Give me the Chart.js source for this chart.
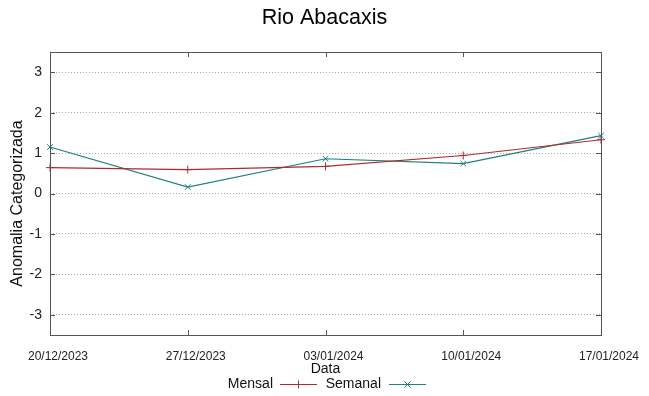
<!DOCTYPE html>
<html>
<head>
<meta charset="utf-8">
<script src="https://cdn.jsdelivr.net/npm/chart.js@4.4.1/dist/chart.umd.min.js"></script>
<style>
  body { margin: 0; background: #fff; }
  canvas { display: block; }
</style>
</head>
<body>
<canvas id="chart" width="649" height="396"></canvas>
<script>
// Data
const dates = ['20/12/2023', '27/12/2023', '03/01/2024', '10/01/2024', '17/01/2024'];
const mensal = [0.64, 0.59, 0.67, 0.94, 1.33];
const semanal = [1.15, 0.16, 0.86, 0.74, 1.43];
const yTicks = [-3, -2, -1, 0, 1, 2, 3];

const RED = '#b02a2a';
const TEAL = '#1f8080';
const FONT = "'Liberation Sans', Arial, sans-serif";

// gnuplot-like frame, inward tick marks, y title and the legend under the axis
const framePlugin = {
    id: 'frame',
    afterDraw(chart) {
        const { ctx, chartArea: a, scales } = chart;
        ctx.save();
        ctx.strokeStyle = '#555';
        ctx.lineWidth = 1;
        ctx.strokeRect(Math.round(a.left) + 0.5, Math.round(a.top) + 0.5,
            Math.round(a.right - a.left), Math.round(a.bottom - a.top));

        ctx.beginPath();
        scales.y.ticks.forEach(t => {
            const py = Math.round(scales.y.getPixelForValue(t.value)) + 0.5;
            ctx.moveTo(a.left, py); ctx.lineTo(a.left + 5, py);
            ctx.moveTo(a.right, py); ctx.lineTo(a.right - 5, py);
        });
        dates.forEach((d, i) => {
            const px = Math.round(scales.x.getPixelForValue(i)) + 0.5;
            ctx.moveTo(px, a.bottom); ctx.lineTo(px, a.bottom - 5);
            ctx.moveTo(px, a.top); ctx.lineTo(px, a.top + 5);
        });
        ctx.stroke();

        // y axis title (sits a bit below the middle of the plot, as in gnuplot)
        ctx.save();
        ctx.translate(18, 203.5);
        ctx.rotate(-Math.PI / 2);
        ctx.font = '16px ' + FONT;
        ctx.fillStyle = '#111';
        ctx.textAlign = 'center';
        ctx.textBaseline = 'middle';
        ctx.fillText('Anomalia Categorizada', 0, 0);
        ctx.restore();

        // legend: text first, then the line sample with its marker
        ctx.font = '14px ' + FONT;
        ctx.fillStyle = '#111';
        ctx.textAlign = 'right';
        ctx.textBaseline = 'middle';
        const ly = 384.5;
        const items = [
            { label: 'Mensal', color: RED, tx: 273, x0: 280, x1: 317, mark: 'plus' },
            { label: 'Semanal', color: TEAL, tx: 381, x0: 389, x1: 426, mark: 'x' }
        ];
        items.forEach(it => {
            ctx.fillText(it.label, it.tx, ly);
            ctx.strokeStyle = it.color;
            ctx.beginPath();
            ctx.moveTo(it.x0, ly); ctx.lineTo(it.x1, ly);
            const mx = (it.x0 + it.x1) / 2;
            if (it.mark === 'plus') {
                ctx.moveTo(mx, ly - 4); ctx.lineTo(mx, ly + 4);
            } else {
                ctx.moveTo(mx - 3, ly - 3); ctx.lineTo(mx + 3, ly + 3);
                ctx.moveTo(mx - 3, ly + 3); ctx.lineTo(mx + 3, ly - 3);
            }
            ctx.stroke();
        });
        ctx.restore();
    }
};

new Chart(document.getElementById('chart'), {
    type: 'line',
    data: {
        labels: dates,
        datasets: [
            {
                label: 'Mensal',
                data: mensal,
                borderColor: RED,
                backgroundColor: RED,
                borderWidth: 1.2,
                pointStyle: 'cross',
                pointRadius: 4,
                pointBorderWidth: 1,
                tension: 0
            },
            {
                label: 'Semanal',
                data: semanal,
                borderColor: TEAL,
                backgroundColor: TEAL,
                borderWidth: 1.2,
                pointStyle: 'crossRot',
                pointRadius: 4,
                pointBorderWidth: 1,
                tension: 0
            }
        ]
    },
    options: {
        responsive: false,
        animation: false,
        layout: { padding: { left: 0, right: 0, top: 0, bottom: 17 } },
        plugins: {
            legend: { display: false },
            tooltip: { enabled: false },
            title: {
                display: true,
                text: 'Rio Abacaxis',
                color: '#000',
                font: { family: FONT, size: 21.5, weight: 'normal' },
                padding: { top: 5, bottom: 21.2 }
            }
        },
        scales: {
            x: {
                type: 'category',
                offset: false,
                grid: { display: false, drawTicks: false },
                border: { display: false },
                ticks: {
                    color: '#222',
                    padding: 14,
                    labelOffset: 8,
                    maxRotation: 0,
                    autoSkip: false,
                    font: { family: FONT, size: 12 }
                },
                title: {
                    display: true,
                    text: 'Data',
                    color: '#111',
                    font: { family: FONT, size: 14 },
                    padding: { top: 0, bottom: 1 }
                },
                afterFit: s => { s.height = 44; }
            },
            y: {
                min: -3.5,
                max: 3.5,
                afterBuildTicks: s => { s.ticks = yTicks.map(v => ({ value: v })); },
                grid: { color: '#a8a8a8', drawTicks: false },
                border: { display: false, dash: [1, 2] },
                ticks: {
                    color: '#222',
                    padding: 8,
                    font: { family: FONT, size: 14 }
                },
                afterFit: s => { s.width = 50; }
            },
            // empty right margin so the title stays centred on the page
            yRight: {
                position: 'right',
                grid: { display: false, drawTicks: false },
                border: { display: false },
                ticks: { display: false },
                afterFit: s => { s.width = 48; }
            }
        }
    },
    plugins: [framePlugin]
});
</script>
</body>
</html>
